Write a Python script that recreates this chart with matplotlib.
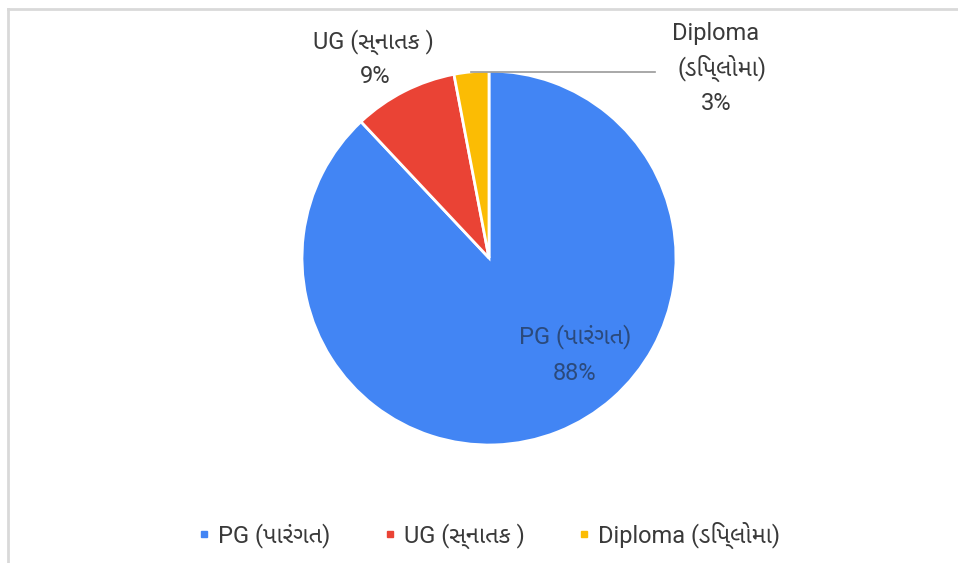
import numpy as np
import matplotlib
matplotlib.use('Agg')
import matplotlib.pyplot as plt
from matplotlib.lines import Line2D

labels = ['PG (પારંગત)', 'UG (સ્નાતક )', 'Diploma (ડિપ્લોમા)']
values = [88, 9, 3]
colors = ['#4285F4', '#EA4335', '#FBBC04']

plt.rcParams['font.family'] = ['Roboto', 'Noto Sans Gujarati UI', 'Noto Sans Gujarati', 'DejaVu Sans']

fig = plt.figure(figsize=(9.58, 5.63), dpi=100)
W, H = 958, 563
cx, cy, r = 489, 258, 187
ax = fig.add_axes([(cx - r) / W, 1 - (cy + r) / H, 2 * r / W, 2 * r / H])

wedges, _ = ax.pie(values, colors=colors, startangle=90, counterclock=False,
                   radius=1, wedgeprops=dict(edgecolor='white', linewidth=2))
ax.set_xlim(-1, 1)
ax.set_ylim(-1, 1)
ax.set_aspect('equal')
ax.axis('off')

fs = 17
txt = '#3a3a3a'
pct = ['%d%%' % v for v in values]

# PG label inside the slice
ax.text(0.46, -0.42, labels[0], ha='center', va='center', fontsize=fs, color='#2b4a7c')
ax.text(0.46, -0.62, pct[0], ha='center', va='center', fontsize=fs, color='#2b4a7c')

# UG label outside
ax.text(-0.62, 1.155, labels[1], ha='center', va='center', fontsize=fs, color=txt, clip_on=False)
ax.text(-0.61, 0.97, pct[1], ha='center', va='center', fontsize=fs, color=txt, clip_on=False)

# Diploma label with leader line
w = wedges[2]
mid = np.deg2rad((w.theta1 + w.theta2) / 2)
ax.plot([np.cos(mid), 0.888], [np.sin(mid), np.sin(mid)], color='#999999', lw=1.2, clip_on=False)
ax.text(1.214, 1.198, 'Diploma', ha='center', va='center', fontsize=fs, color=txt, clip_on=False)
ax.text(1.246, 1.016, '(ડિપ્લોમા)', ha='center', va='center', fontsize=fs, color=txt, clip_on=False)
ax.text(1.214, 0.824, pct[2], ha='center', va='center', fontsize=fs, color=txt, clip_on=False)

handles = [Line2D([], [], marker='s', linestyle='none', markersize=5, color=c) for c in colors]
fig.legend(handles, labels, loc='center', bbox_to_anchor=(0.51, 1 - 535 / H), ncol=3,
           frameon=False, fontsize=fs, handlelength=0.6, handletextpad=0.3, columnspacing=2.2,
           labelcolor=txt)

# frame lines at top and left edges
fig.add_artist(Line2D([8 / W, 1], [1 - 9 / H, 1 - 9 / H], color='#d9d9d9', lw=2))
fig.add_artist(Line2D([8 / W, 8 / W], [0, 1 - 9 / H], color='#d9d9d9', lw=2))

plt.savefig('out.png', dpi=100)
